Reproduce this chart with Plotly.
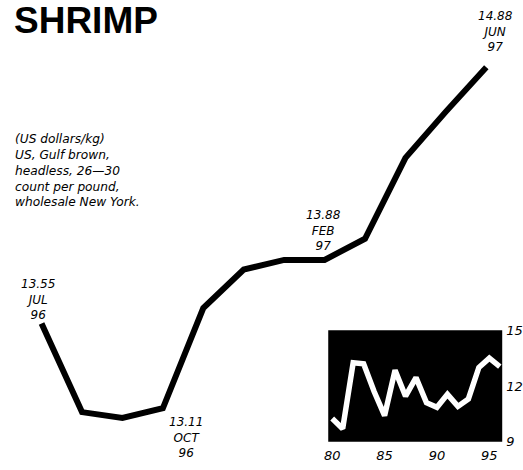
import plotly.graph_objects as go

# Main chart data (US dollars/kg)
months = ["JUL 96", "AUG 96", "SEP 96", "OCT 96", "NOV 96", "DEC 96",
          "JAN 97", "FEB 97", "MAR 97", "APR 97", "MAY 97", "JUN 97"]
prices = [13.55, 13.09, 13.06, 13.11, 13.63, 13.83,
          13.88, 13.88, 13.99, 14.41, 14.65, 14.88]

# Inset: annual prices 1980-1996
years = [80, 81, 82, 83, 84, 85, 86, 87, 88, 89, 90, 91, 92, 93, 94, 95, 96]
annual = [10.25, 9.7, 13.25, 13.2, 11.7, 10.4, 12.85, 11.45, 12.45, 11.1,
          10.85, 11.55, 10.9, 11.3, 13.0, 13.5, 13.05]
inset_xticks = [80, 85, 90, 95]
inset_yticks = [9, 12, 15]

# Labelled points: (index, label text, yanchor, xshift, yshift)
labels = [
    (0, "13.55<br>JUL<br>96", "bottom", -4, 0),
    (3, "13.11<br>OCT<br>96", "top", 23, -5),
    (7, "13.88<br>FEB<br>97", "bottom", -1, 5),
    (11, "14.88<br>JUN<br>97", "bottom", 9, 11),
]

W, H = 523, 470
FAM = "DejaVu Sans, sans-serif"
ital = dict(family=FAM, size=12, color="black", style="italic")

fig = go.Figure()
fig.add_trace(go.Scatter(
    x=list(range(len(months))), y=prices, mode="lines",
    line=dict(color="black", width=6), hoverinfo="skip", showlegend=False,
    xaxis="x", yaxis="y"))
fig.add_trace(go.Scatter(
    x=years, y=annual, mode="lines",
    line=dict(color="white", width=5.5), hoverinfo="skip", showlegend=False,
    xaxis="x2", yaxis="y2"))

annotations = []
for idx, txt, ya, xs, ys in labels:
    annotations.append(dict(
        x=idx, y=prices[idx], xref="x", yref="y", text=txt, showarrow=False,
        xanchor="center", yanchor=ya, xshift=xs, yshift=ys, font=ital, align="center"))

annotations.append(dict(
    x=8 / W, y=1 + 9 / H, xref="paper", yref="paper", text="<b>SHRIMP</b>",
    showarrow=False, xanchor="left", yanchor="top",
    font=dict(family="Liberation Sans, Arial, sans-serif", size=37, color="black")))
annotations.append(dict(
    x=9 / W, y=1 - 127 / H, xref="paper", yref="paper",
    text="(US dollars/kg)<br>US, Gulf brown,<br>headless, 26\u201430<br>count per pound,<br>wholesale New York.",
    showarrow=False, xanchor="left", yanchor="top", align="left",
    font=dict(family=FAM, size=12.2, color="black", style="italic")))

tickf = dict(family=FAM, size=13, color="black", style="italic")

fig.update_layout(
    width=W, height=H, autosize=False,
    margin=dict(l=0, r=0, t=0, b=0),
    paper_bgcolor="white", plot_bgcolor="rgba(0,0,0,0)",
    xaxis=dict(domain=[0, 1], range=[-0.929, 11.858], visible=False, fixedrange=True),
    yaxis=dict(domain=[0, 1], range=[12.831, 15.193], visible=False, fixedrange=True),
    xaxis2=dict(domain=[328 / W, 504 / W], anchor="y2", range=[79.62, 96.23],
                tickvals=inset_xticks, ticktext=[str(v) for v in inset_xticks],
                showgrid=False, zeroline=False, showline=False, ticks="",
                ticklabelstandoff=4, tickfont=tickf, fixedrange=True),
    yaxis2=dict(domain=[21 / H, 136 / H], anchor="x2", side="right",
                range=[8.999, 15.001], tickvals=inset_yticks,
                showgrid=False, zeroline=False, showline=False, ticks="",
                ticklabelstandoff=3, tickfont=tickf, fixedrange=True),
    shapes=[dict(type="rect", xref="x2 domain", yref="y2 domain",
                 x0=0, x1=1, y0=0, y1=1, fillcolor="black",
                 line=dict(width=0), layer="below")],
    annotations=annotations,
)

fig.write_html("out.html",
               config={"displayModeBar": False, "responsive": False},
               post_script="document.body.style.margin='0';document.body.style.overflow='hidden';")
